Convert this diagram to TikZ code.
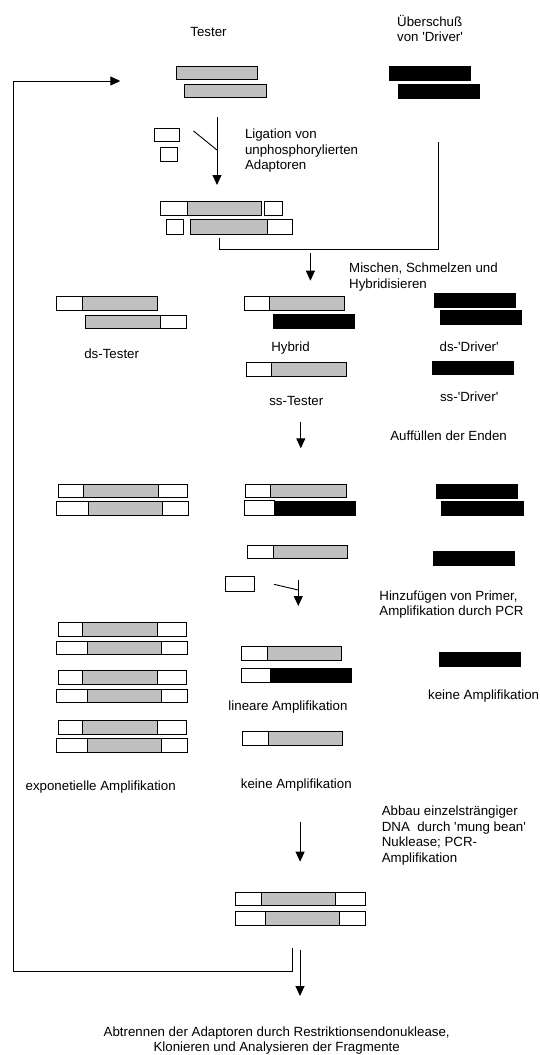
\documentclass[tikz,border=0pt]{standalone}
\usepackage{fontspec}
\newfontfamily\arial{Liberation Sans}
\usetikzlibrary{arrows.meta}
\definecolor{dnagray}{RGB}{192,192,192}

\begin{document}
\begin{tikzpicture}[x=1pt, y=-1pt, line join=miter, >={Triangle[width=9pt,length=10pt]},
	ad/.style={draw, line width=0.9pt, fill=white},
	ts/.style={draw, line width=0.9pt, fill=dnagray},
	dr/.style={fill=black},
	flow/.style={line width=0.9pt},
	txt/.style={font=\arial\fontsize{13.3}{15.5}\selectfont, inner sep=0pt, text height=11pt, text depth=2pt},
	mtxt/.style={font=\arial\fontsize{13.3}{15.5}\selectfont, inner sep=0pt, align=left, anchor=west}]
	\fill[white] (0,0) rectangle (539,1055);
	\useasboundingbox (0,0) rectangle (539,1055);
	% Tester und Driver
	\node[txt] (tester) at (208.5,31.5) {Tester};
	\node[mtxt] (excess) at (397,28.5) {Überschuß\\von 'Driver'};
	\draw[ts] (176,66) rectangle (257,79);
	\draw[ts] (184.5,84) rectangle (266.5,97.5);
	\fill[dr] (389,66) rectangle (471,81);
	\fill[dr] (398,84) rectangle (480,99);
	% Adaptoren anhaengen
	\draw[ad] (154.7,128) rectangle (179.4,141);
	\draw[ad] (160.2,147) rectangle (177.4,161);
	\coordinate (L1) at (217,117); \coordinate (L2) at (217,185);
	\coordinate (Lj) at (217,150); \coordinate (La) at (193.5,131);
	\draw[flow,->] (L1) -- (L2);
	\draw[flow] (La) -- (Lj);
	\node[mtxt] (lig) at (244.8,151) {Ligation von\\unphosphorylierten\\Adaptoren};
	\draw[ad] (160.9,201) rectangle (187.3,215);
	\draw[ts] (187.3,201) rectangle (261.3,215);
	\draw[ad] (264.7,201) rectangle (282.6,215);
	\draw[ad] (166.7,219) rectangle (183.2,234);
	\draw[ts] (190.1,219) rectangle (267.4,234);
	\draw[ad] (267.4,219) rectangle (292.2,234);
	% mit Driver zusammenfuehren
	\coordinate (J1) at (219,238); \coordinate (J2) at (438.3,249); \coordinate (D1) at (438.3,142);
	\draw[flow] (J1) |- (J2) -- (D1);
	\coordinate (M1) at (310.4,253.3); \coordinate (M2) at (310.4,280.7);
	\draw[flow,->] (M1) -- (M2);
	\node[mtxt] (mix) at (349,277) {Mischen, Schmelzen und\\Hybridisieren};
	% nach der Hybridisierung
	\draw[ad] (56,296.7) rectangle (82.5,310);
	\draw[ts] (82.5,296.7) rectangle (157.1,310);
	\draw[ts] (85.3,315.3) rectangle (160.5,328.3);
	\draw[ad] (160.5,315.3) rectangle (186.7,328.3);
	\node[txt] (dstester) at (111.7,354.3) {ds-Tester};
	\draw[ad] (244.4,296) rectangle (269.9,310);
	\draw[ts] (269.9,296) rectangle (344.4,310);
	\fill[dr] (272.6,314.3) rectangle (354.8,328.7);
	\node[txt] (hybrid) at (290.5,346.7) {Hybrid};
	\draw[ad] (246.5,362.3) rectangle (271.9,376.3);
	\draw[ts] (271.9,362.3) rectangle (346.2,376.3);
	\node[txt] (sstester) at (296.3,400.7) {ss-Tester};
	\fill[dr] (434.2,292.7) rectangle (515.6,307.7);
	\fill[dr] (440,310) rectangle (521.8,325);
	\node[txt] (dsdriver) at (469.2,346.7) {ds-'Driver'};
	\fill[dr] (432.1,361) rectangle (513.9,375);
	\node[txt] (ssdriver) at (469.2,397.3) {ss-'Driver'};
	\coordinate (F1) at (300.8,421.7); \coordinate (F2) at (300.8,448.3);
	\draw[flow,->] (F1) -- (F2);
	\node[txt] (fillin) at (448.6,435.7) {Auffüllen der Enden};
	% aufgefuellte Enden
	\draw[ad] (58.4,484) rectangle (83.2,497.3);
	\draw[ts] (83.2,484) rectangle (158.1,497.3);
	\draw[ad] (158.1,484) rectangle (187.3,497.3);
	\draw[ad] (56.7,501.7) rectangle (88,515.7);
	\draw[ts] (88,501.7) rectangle (162.6,515.7);
	\draw[ad] (162.6,501.7) rectangle (188,515.7);
	\draw[ad] (245.4,484) rectangle (270.9,497.3);
	\draw[ts] (270.9,484) rectangle (346.2,497.3);
	\draw[ad] (244.8,500.7) rectangle (274.3,515.7);
	\fill[dr] (274.3,500.7) rectangle (356.1,515.7);
	\fill[dr] (435.9,484) rectangle (518,499);
	\fill[dr] (441,500.7) rectangle (523.5,515.7);
	\draw[ad] (247.5,545) rectangle (273.3,558.7);
	\draw[ts] (273.3,545) rectangle (347.2,558.7);
	\fill[dr] (433.1,551) rectangle (515,566);
	% Primer und PCR
	\draw[ad] (225,576.7) rectangle (254.3,591);
	\coordinate (P1) at (298.3,580); \coordinate (P2) at (298.3,606);
	\coordinate (Pj) at (298.3,590); \coordinate (Pa) at (274,584.3);
	\draw[flow,->] (P1) -- (P2);
	\draw[flow] (Pa) -- (Pj);
	\node[mtxt] (pcr) at (379.2,604.7) {Hinzufügen von Primer,\\Amplifikation durch PCR};
	\foreach \y in {622.7,670.7,720}{
		\draw[ad] (58.4,\y) rectangle (82.8,\y+14);
		\draw[ts] (82.8,\y) rectangle (157.1,\y+14);
		\draw[ad] (157.1,\y) rectangle (186.7,\y+14);
		\draw[ad] (56.7,\y+18.3) rectangle (87,\y+32);
		\draw[ts] (87,\y+18.3) rectangle (161.6,\y+32);
		\draw[ad] (161.6,\y+18.3) rectangle (187.3,\y+32);
	}
	\node[txt] (expo) at (100.7,786) {exponetielle Amplifikation};
	\draw[ad] (241,646.7) rectangle (267.1,660);
	\draw[ts] (267.1,646.7) rectangle (341.4,660);
	\draw[ad] (241,668.3) rectangle (270.5,682.7);
	\fill[dr] (270.5,668.3) rectangle (351.7,682.7);
	\node[txt] (linear) at (288,705.7) {lineare Amplifikation};
	\draw[ad] (242.4,731) rectangle (268.1,745);
	\draw[ts] (268.1,731) rectangle (342.7,745);
	\node[txt] (noampA) at (296.3,784.3) {keine Amplifikation};
	\fill[dr] (439,652) rectangle (520.7,667);
	\node[txt, anchor=west] (noampB) at (428,695) {keine Amplifikation};
	% Nuklease-Verdau
	\coordinate (N1) at (300.1,821.7); \coordinate (N2) at (300.1,861.7);
	\draw[flow,->] (N1) -- (N2);
	\node[mtxt] (mung) at (381.6,835.5) {Abbau einzelsträngiger\\DNA\ \ durch 'mung bean'\\Nuklease; PCR-\\Amplifikation};
	\draw[ad] (235,892.7) rectangle (261,905.7);
	\draw[ts] (261,892.7) rectangle (335.7,905.7);
	\draw[ad] (335.7,892.7) rectangle (365.1,905.7);
	\draw[ad] (235,911.7) rectangle (265.7,925);
	\draw[ts] (265.7,911.7) rectangle (339.3,925);
	\draw[ad] (339.3,911.7) rectangle (365.4,925);
	% Rueckfuehrung und Ende
	\coordinate (R1) at (292.3,948.3); \coordinate (R2) at (13.75,971.7);
	\coordinate (R3) at (120.3,81);
	\draw[flow,->] (R1) |- (R2) |- (R3);
	\coordinate (E1) at (300,950); \coordinate (E2) at (300,996);
	\draw[flow,->] (E1) -- (E2);
	\node[mtxt, align=center, anchor=center] (clone) at (276.7,1040.3) {Abtrennen der Adaptoren durch Restriktionsendonuklease,\\Klonieren und Analysieren der Fragmente};
\end{tikzpicture}
\end{document}
